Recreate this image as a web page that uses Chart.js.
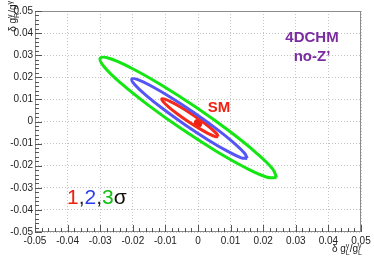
<!DOCTYPE html>
<html>
<head>
<meta charset="utf-8">
<script src="https://cdn.jsdelivr.net/npm/chart.js@4"></script>
<style>
  html, body { margin: 0; padding: 0; background: #fff; }
  #wrap { width: 374px; height: 259px; }
</style>
</head>
<body>
<div id="wrap"><canvas id="c"></canvas></div>
<script>
// Contour outlines, [x, y] in coupling units
const sigma1 = [
    [0.00620, -0.00690], [0.00580, -0.00568], [0.00416, -0.00333], [0.00150, -0.00024],
    [-0.00176, 0.00315], [-0.00512, 0.00631], [-0.00808, 0.00875], [-0.01018, 0.01012],
    [-0.01110, 0.01020], [-0.01070, 0.00898], [-0.00906, 0.00663], [-0.00640, 0.00354],
    [-0.00314, 0.00015], [0.00022, -0.00301], [0.00318, -0.00545], [0.00528, -0.00682],
    [0.00620, -0.00690]
];
const sigma2 = [
    [0.01510, -0.01670], [0.01424, -0.01426], [0.01082, -0.00945], [0.00537, -0.00302],
    [-0.00131, 0.00406], [-0.00819, 0.01072], [-0.01420, 0.01593], [-0.01846, 0.01892],
    [-0.02030, 0.01920], [-0.01944, 0.01676], [-0.01602, 0.01195], [-0.01057, 0.00552],
    [-0.00389, -0.00156], [0.00299, -0.00822], [0.00900, -0.01343], [0.01326, -0.01642],
    [0.01510, -0.01670]
];
const sigma3 = [
    [0.02410, -0.02540], [0.02290, -0.02147], [0.01775, -0.01403], [0.00948, -0.00421],
    [-0.00071, 0.00652], [-0.01124, 0.01651], [-0.02049, 0.02421], [-0.02708, 0.02851],
    [-0.03000, 0.02870], [-0.02880, 0.02477], [-0.02365, 0.01733], [-0.01538, 0.00751],
    [-0.00519, -0.00322], [0.00534, -0.01321], [0.01459, -0.02091], [0.02118, -0.02521],
    [0.02410, -0.02540]
];
const smPoint = [0.0, -0.0008];

const xTickLabels = ['-0.05', '-0.04', '-0.03', '-0.02', '-0.01', '0', '0.01', '0.02', '0.03', '0.04', '0.05'];
const yTickLabels = ['-0.05', '-0.04', '-0.03', '-0.02', '-0.01', '0', '0.01', '0.02', '0.03', '0.04', '0.05'];

const FONT = '"Liberation Sans", Arial, sans-serif';

function toXY(arr) {
    return arr.map(p => ({ x: p[0], y: p[1] }));
}

// text with stacked sub/superscripts, drawn right-aligned at (0,0)
function drawRich(ctx, parts, size) {
    const small = Math.round(size * 0.7);
    let total = 0;
    parts.forEach(p => {
        if (p.stack) {
            ctx.font = small + 'px ' + FONT;
            total += Math.max(ctx.measureText(p.sup || '').width, ctx.measureText(p.sub || '').width);
        } else {
            ctx.font = size + 'px ' + FONT;
            total += ctx.measureText(p.t).width;
        }
    });
    let cx = -total;
    ctx.textAlign = 'left';
    ctx.textBaseline = 'alphabetic';
    parts.forEach(p => {
        if (p.stack) {
            ctx.font = small + 'px ' + FONT;
            if (p.sup) ctx.fillText(p.sup, cx, -size * 0.45);
            if (p.sub) ctx.fillText(p.sub, cx, size * 0.3);
            cx += Math.max(ctx.measureText(p.sup || '').width, ctx.measureText(p.sub || '').width);
        } else {
            ctx.font = size + 'px ' + FONT;
            ctx.fillText(p.t, cx, 0);
            cx += ctx.measureText(p.t).width;
        }
    });
}

const decor = {
    id: 'decor',
    afterDraw(chart) {
        const ctx = chart.ctx;
        const a = chart.chartArea;
        const xs = chart.scales.x, ys = chart.scales.y;
        ctx.save();

        // frame
        ctx.strokeStyle = '#8c8c8c';
        ctx.lineWidth = 1;
        ctx.strokeRect(a.left + 0.5, a.top + 0.5, a.right - a.left - 1, a.bottom - a.top - 1);

        // inward ticks, 5 subdivisions
        ctx.strokeStyle = '#555';
        ctx.beginPath();
        for (let i = 0; i <= 50; i++) {
            const v = -0.05 + i * 0.002;
            const len = (i % 5 === 0) ? 7 : 4;
            const px = Math.round(xs.getPixelForValue(v)) + 0.5;
            ctx.moveTo(px, a.bottom);
            ctx.lineTo(px, a.bottom - len);
            const py = Math.round(ys.getPixelForValue(v)) + 0.5;
            ctx.moveTo(a.left, py);
            ctx.lineTo(a.left + len, py);
        }
        ctx.stroke();

        // axis titles
        ctx.fillStyle = '#222';
        ctx.save();
        ctx.translate(362, 252);
        drawRich(ctx, [{ t: 'δ g' }, { stack: true, sup: 'γ', sub: 'L' }, { t: '/g' }, { stack: true, sup: 'γ', sub: 'L' }], 10);
        ctx.restore();
        ctx.save();
        ctx.translate(16, 1);
        ctx.rotate(-Math.PI / 2);
        drawRich(ctx, [{ t: 'δ g' }, { stack: true, sup: 'γ', sub: 'R' }, { t: '/g' }, { stack: true, sup: 'γ' }], 10);
        ctx.restore();

        // labels
        ctx.textAlign = 'center';
        ctx.textBaseline = 'alphabetic';
        ctx.fillStyle = '#7a2ca0';
        ctx.font = 'bold 15px ' + FONT;
        ctx.fillText('4DCHM', 312, 42);
        ctx.fillText('no-Z\u2019', 312, 61);
        ctx.fillStyle = '#f02010';
        ctx.fillText('SM', 219, 112);

        const sig = [['1', '#f02010'], [',', '#222'], ['2', '#2b3cf0'], [',', '#222'], ['3', '#10c010'], ['σ', '#111']];
        ctx.font = '21px ' + FONT;
        ctx.textAlign = 'left';
        let sx = 67;
        sig.forEach(s => {
            ctx.fillStyle = s[1];
            ctx.fillText(s[0], sx, 204);
            sx += ctx.measureText(s[0]).width;
        });
        ctx.restore();
    }
};

const contourStyle = (color) => ({
    showLine: true,
    borderColor: color,
    borderWidth: 3,
    pointRadius: 0,
    tension: 0.4,
    fill: false
});

new Chart(document.getElementById('c'), {
    type: 'scatter',
    data: {
        datasets: [
            Object.assign({ label: '3 sigma', data: toXY(sigma3) }, contourStyle('#14e614')),
            Object.assign({ label: '2 sigma', data: toXY(sigma2) }, contourStyle('#5555f5')),
            Object.assign({ label: '1 sigma', data: toXY(sigma1) }, contourStyle('#f52a1a')),
            {
                label: 'SM',
                data: toXY([smPoint]),
                pointRadius: 4,
                pointBackgroundColor: '#f02010',
                pointBorderColor: '#f02010',
                showLine: false
            }
        ]
    },
    options: {
        responsive: true,
        maintainAspectRatio: false,
        animation: false,
        layout: { padding: { left: 0, right: 13, top: 11, bottom: 0 } },
        plugins: {
            legend: { display: false },
            tooltip: { enabled: false }
        },
        scales: {
            x: {
                type: 'linear',
                min: -0.05,
                max: 0.05,
                afterFit(scale) { scale.height = 27; },
                grid: {
                    color: '#c4c4c4',
                    borderDash: [1, 2],
                    drawTicks: false
                },
                border: { display: false, dash: [1, 2] },
                ticks: {
                    stepSize: 0.01,
                    padding: 3,
                    maxRotation: 0,
                    autoSkip: false,
                    color: '#222',
                    font: { family: FONT, size: 10 },
                    callback: (v, i) => xTickLabels[i]
                }
            },
            y: {
                type: 'linear',
                min: -0.05,
                max: 0.05,
                afterFit(scale) { scale.width = 35; },
                grid: {
                    color: '#c4c4c4',
                    drawTicks: false
                },
                border: { display: false, dash: [1, 2] },
                ticks: {
                    stepSize: 0.01,
                    padding: 2,
                    autoSkip: false,
                    color: '#222',
                    font: { family: FONT, size: 10 },
                    callback: (v, i) => yTickLabels[i]
                }
            }
        }
    },
    plugins: [decor]
});
</script>
</body>
</html>
